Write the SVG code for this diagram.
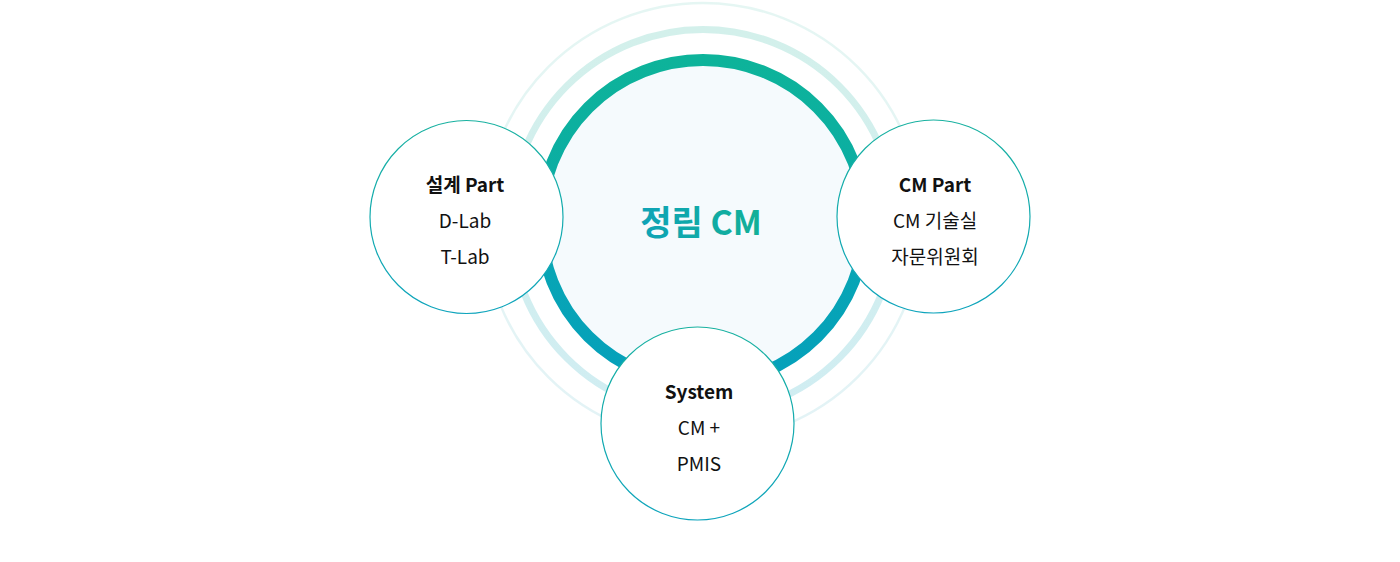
<svg xmlns="http://www.w3.org/2000/svg" width="1400" height="562" viewBox="0 0 1400 562">
<defs>
<linearGradient id="gThick" x1="0" y1="0" x2="0" y2="1">
<stop offset="0" stop-color="#0db39a"/>
<stop offset="0.4" stop-color="#0bada4"/>
<stop offset="0.65" stop-color="#07a5b5"/>
<stop offset="1" stop-color="#05a0bb"/>
</linearGradient>
<linearGradient id="gMid" x1="0" y1="0" x2="0" y2="1">
<stop offset="0" stop-color="#d3f0eb"/>
<stop offset="1" stop-color="#d0edf2"/>
</linearGradient>
<linearGradient id="gOuter" x1="0" y1="0" x2="0" y2="1">
<stop offset="0" stop-color="#e5f6f3"/>
<stop offset="1" stop-color="#e3f3f6"/>
</linearGradient>
<linearGradient id="gNode" x1="0" y1="0" x2="0" y2="1">
<stop offset="0" stop-color="#18b1a0"/>
<stop offset="1" stop-color="#0ea4bc"/>
</linearGradient>
<linearGradient id="gTitle" x1="0" y1="0" x2="1" y2="0">
<stop offset="0" stop-color="#0ea3b7"/>
<stop offset="1" stop-color="#12b097"/>
</linearGradient>
<style>
.node{fill:#fff;stroke:url(#gNode);stroke-width:1.2}
.t{font-family:"Noto Sans CJK KR","Noto Sans",sans-serif;font-size:19px;fill:#111;text-anchor:middle}
.b{font-weight:700}
</style>
</defs>
<g id="rings">
<circle cx="703" cy="222" r="219" fill="none" stroke="url(#gOuter)" stroke-width="2.5"/>
<circle cx="703" cy="222" r="192.5" fill="none" stroke="url(#gMid)" stroke-width="7"/>
<circle cx="703" cy="222" r="162" fill="#f5fafd" stroke="url(#gThick)" stroke-width="12"/>
</g>
<g id="center">
<text x="701" y="235" font-family="Noto Sans CJK KR, Noto Sans, sans-serif" font-size="34" font-weight="700" fill="url(#gTitle)" text-anchor="middle">정림 CM</text>
</g>
<g id="connectors"></g>
<g id="node-design">
<circle class="node" cx="466.5" cy="217" r="96.5"/>
<text class="t b" x="465" y="192">설계 Part</text>
<text class="t" x="465" y="228">D-Lab</text>
<text class="t" x="465" y="264">T-Lab</text>
</g>
<g id="node-cm">
<circle class="node" cx="933.5" cy="216.5" r="96.5"/>
<text class="t b" x="935" y="192">CM Part</text>
<text class="t" x="935" y="228">CM 기술실</text>
<text class="t" x="935" y="264">자문위원회</text>
</g>
<g id="node-system">
<circle class="node" cx="697.5" cy="423.5" r="96.5"/>
<text class="t b" x="699" y="399">System</text>
<text class="t" x="699" y="435">CM +</text>
<text class="t" x="699" y="471">PMIS</text>
</g>
</svg>
